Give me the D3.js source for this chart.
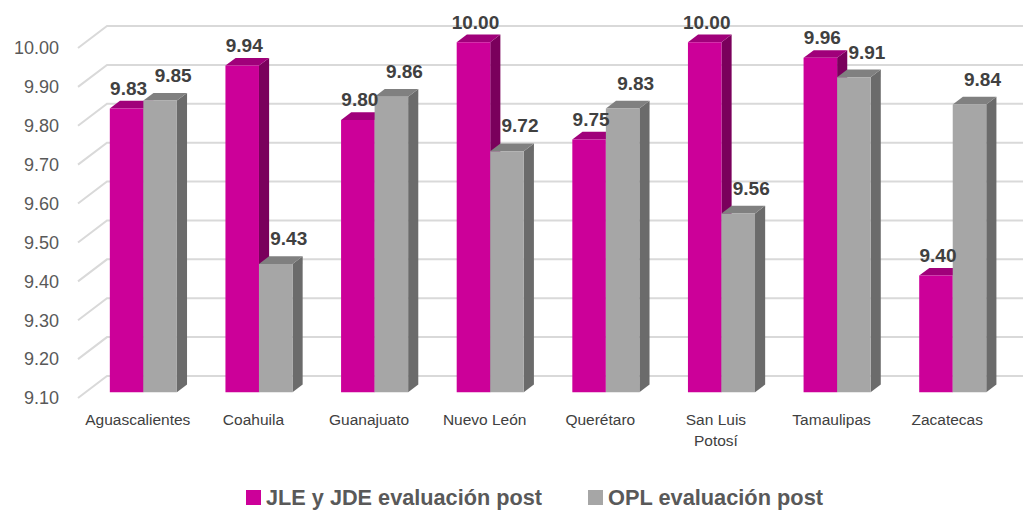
<!DOCTYPE html>
<html>
<head>
<meta charset="utf-8">
<script src="https://cdn.jsdelivr.net/npm/d3@7"></script>
<style>
  body { margin: 0; background: #fff; }
  svg { font-family: "Liberation Sans", Arial, sans-serif; }
</style>
</head>
<body>
<div id="chart"></div>
<script>
// Chart data
const categories = ["Aguascalientes", "Coahuila", "Guanajuato", "Nuevo León", "Querétaro", "San Luis Potosí", "Tamaulipas", "Zacatecas"];
const seriesNames = ["JLE y JDE evaluación post", "OPL evaluación post"];
const jleValues = [9.83, 9.94, 9.80, 10.00, 9.75, 10.00, 9.96, 9.40];
const oplValues = [9.85, 9.43, 9.86, 9.72, 9.83, 9.56, 9.91, 9.84];
const yTicks = [9.10, 9.20, 9.30, 9.40, 9.50, 9.60, 9.70, 9.80, 9.90, 10.00];

const width = 1023, height = 514;

// colours for front / top / side of each series
const colors = [
  {front: "#cc0099", top: "#a0007a", side: "#7a005c"},
  {front: "#a6a6a6", top: "#808080", side: "#6b6b6b"}
];

// 3D depth of the plot box
const depthX = 29, depthY = -22;
const barFront = 0.26, barBack = 0.61;

const svg = d3.select("#chart")
    .append("svg")
    .attr("width", width)
    .attr("height", height);

const y = d3.scaleLinear()
    .domain([9.1, 10])
    .range([398, 48]);

const x = d3.scaleBand()
    .domain(categories)
    .range([78, 1003])
    .paddingInner(0.42)
    .paddingOuter(0.21);

const xs = d3.scaleBand()
    .domain([0, 1])
    .range([0, x.bandwidth()]);

// project a point on the front plane back to depth d (0..1)
const proj = (px, py, d) => [px + d * depthX, py + d * depthY];

// Gridlines: left wall diagonal + back wall horizontal
const grid = svg.append("g");
yTicks.forEach(t => {
    const yf = y(t);
    const [bx, by] = proj(78, yf, 1);
    grid.append("polyline")
        .attr("points", `78,${yf} ${bx},${by} ${width + 5},${by}`)
        .attr("fill", "none")
        .attr("stroke", "#d9d9d9")
        .attr("stroke-width", 2);
});

// Y axis labels
svg.append("g")
    .selectAll("text")
    .data(yTicks)
    .enter()
    .append("text")
    .attr("x", 59)
    .attr("y", d => y(d))
    .attr("dy", "0.35em")
    .attr("text-anchor", "end")
    .attr("font-size", 18)
    .attr("fill", "#595959")
    .text(d => d3.format(".2f")(d));

// Bars
const series = [jleValues, oplValues];
const bars = svg.append("g");
const labels = svg.append("g");
const base = 9.1;

categories.forEach((cat, i) => {
    series.forEach((vals, s) => {
        const v = vals[i];
        const x0 = x(cat) + xs(s), x1 = x0 + xs.bandwidth();
        const yt = y(v), yb = y(base);
        const c = colors[s];

        const fTL = proj(x0, yt, barFront), fTR = proj(x1, yt, barFront);
        const fBL = proj(x0, yb, barFront), fBR = proj(x1, yb, barFront);
        const bTL = proj(x0, yt, barBack), bTR = proj(x1, yt, barBack);
        const bBR = proj(x1, yb, barBack);

        // side face
        bars.append("polygon")
            .attr("points", [fTR, bTR, bBR, fBR].join(" "))
            .attr("fill", c.side);
        // top face
        bars.append("polygon")
            .attr("points", [fTL, fTR, bTR, bTL].join(" "))
            .attr("fill", c.top);
        // front face
        bars.append("polygon")
            .attr("points", [fTL, fTR, fBR, fBL].join(" "))
            .attr("fill", c.front);

        // value label
        const lx = (fTL[0] + fTR[0]) / 2 + (s === 0 ? 2 : 13);
        const ly = bTL[1] - (s === 0 ? 6 : 11);
        labels.append("text")
            .attr("x", lx)
            .attr("y", ly)
            .attr("text-anchor", "middle")
            .attr("font-size", 19)
            .attr("font-weight", "bold")
            .attr("fill", "#404040")
            .text(d3.format(".2f")(v));
    });
});

// X axis labels (San Luis Potosí wraps on two lines)
const xLabels = svg.append("g")
    .selectAll("text")
    .data(categories)
    .enter()
    .append("text")
    .attr("x", d => x(d) + x.bandwidth() / 2 + 2)
    .attr("y", 425)
    .attr("text-anchor", "middle")
    .attr("font-size", 15.5)
    .attr("fill", "#404040");

xLabels.each(function(d) {
    const lines = d === "San Luis Potosí" ? ["San Luis", "Potosí"] : [d];
    const el = d3.select(this);
    lines.forEach((ln, k) => {
        el.append("tspan")
            .attr("x", el.attr("x"))
            .attr("dy", k === 0 ? 0 : 21)
            .text(ln);
    });
});

// Legend
const legend = svg.append("g");
const legendX = [246, 588];
const legendLen = [276, 215];
seriesNames.forEach((name, s) => {
    legend.append("rect")
        .attr("x", legendX[s])
        .attr("y", 490)
        .attr("width", 15)
        .attr("height", 15)
        .attr("fill", colors[s].front);
    legend.append("text")
        .attr("x", legendX[s] + 20)
        .attr("y", 505)
        .attr("font-size", 22)
        .attr("font-weight", "bold")
        .attr("fill", "#595959")
        .attr("textLength", legendLen[s])
        .attr("lengthAdjust", "spacingAndGlyphs")
        .text(name);
});
</script>
</body>
</html>
